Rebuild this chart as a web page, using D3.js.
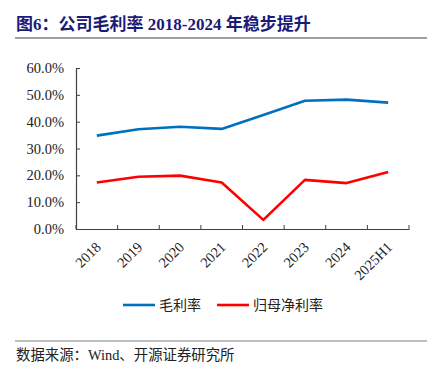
<!DOCTYPE html>
<html>
<head>
<meta charset="utf-8">
<script src="https://cdn.jsdelivr.net/npm/d3@7"></script>
<style>
  body { margin: 0; background: #fff; }
  svg { display: block; }
</style>
</head>
<body>
<div id="chart"></div>
<script>
// chart data
let categories = ["2018", "2019", "2020", "2021", "2022", "2023", "2024", "2025H1"];
let grossMargin = [34.8, 37.2, 38.1, 37.3, 42.5, 47.8, 48.2, 47.1];
let netMargin = [17.3, 19.5, 19.9, 17.3, 3.4, 18.3, 17.1, 21.2];
let yTicks = [0, 10, 20, 30, 40, 50, 60];
let seriesNames = ["毛利率", "归母净利率"];

let W = 443, H = 374;
let margin = { top: 68, left: 76, right: 34, bottom: 145 };
let plotW = 409 - margin.left, plotH = 229 - margin.top;

let serif = "'Liberation Serif', 'Times New Roman', serif";
let cjk = "'Noto Sans CJK SC', sans-serif";

let svg = d3.select("#chart").append("svg")
  .attr("width", W).attr("height", H);

// title
svg.append("text")
  .attr("x", 16).attr("y", 30)
  .attr("fill", "#1a1a78")
  .attr("font-size", 17).attr("font-weight", "bold")
  .attr("font-family", "'Liberation Serif', " + cjk)
  .text("图6：公司毛利率 2018-2024 年稳步提升");

svg.append("line")
  .attr("x1", 15).attr("x2", 427).attr("y1", 38).attr("y2", 38)
  .attr("stroke", "#7f7f7f").attr("stroke-width", 1.5);

let g = svg.append("g")
  .attr("transform", "translate(" + margin.left + "," + margin.top + ")");

// scales
let x = d3.scaleBand().domain(categories).range([0, plotW]);
let y = d3.scaleLinear().domain([0, 60]).range([plotH, 0]);

// y axis
let yAxis = d3.axisLeft(y).tickValues(yTicks)
  .tickSize(-4).tickPadding(12)
  .tickFormat(function(d) { return d.toFixed(1) + "%"; });
let yg = g.append("g").call(yAxis);
yg.select(".domain").attr("stroke", "#404040").attr("stroke-width", 1.2);
yg.selectAll(".tick line").attr("stroke", "#404040");
yg.selectAll(".tick text")
  .attr("fill", "#222").attr("font-size", 14.5).attr("font-family", serif);

// x axis
let xAxis = d3.axisBottom(x).tickSizeOuter(0).tickSize(0).tickFormat("");
let xg = g.append("g").attr("transform", "translate(0," + plotH + ")").call(xAxis);
xg.select(".domain").attr("stroke", "#404040").attr("stroke-width", 1.2);
// boundary ticks between categories
let bounds = categories.map(function(c) { return x(c); }).concat([plotW]);
xg.selectAll(".bound").data(bounds).enter().append("line")
  .attr("x1", function(d) { return d; }).attr("x2", function(d) { return d; })
  .attr("y1", 0).attr("y2", -4)
  .attr("stroke", "#404040");
xg.selectAll(".lbl").data(categories).enter().append("text")
  .attr("transform", function(d) {
    return "translate(" + (x(d) + x.bandwidth() / 2 + 5) + ",19) rotate(-45)";
  })
  .attr("text-anchor", "end")
  .attr("fill", "#222").attr("font-size", 14.5).attr("font-family", serif)
  .text(function(d) { return d; });

// lines
let line = d3.line()
  .x(function(d, i) { return x(categories[i]) + x.bandwidth() / 2; })
  .y(function(d) { return y(d); });

g.append("path").datum(grossMargin)
  .attr("fill", "none").attr("stroke", "#0070c0")
  .attr("stroke-width", 2.6).attr("stroke-linejoin", "round")
  .attr("d", line);

g.append("path").datum(netMargin)
  .attr("fill", "none").attr("stroke", "#ff0000")
  .attr("stroke-width", 2.6).attr("stroke-linejoin", "round")
  .attr("d", line);

// legend
let legend = [
  { name: seriesNames[0], color: "#0070c0", x: 123 },
  { name: seriesNames[1], color: "#ff0000", x: 217 }
];
legend.forEach(function(l) {
  svg.append("line")
    .attr("x1", l.x).attr("x2", l.x + 32).attr("y1", 305).attr("y2", 305)
    .attr("stroke", l.color).attr("stroke-width", 2.6);
  svg.append("text")
    .attr("x", l.x + 36).attr("y", 310)
    .attr("fill", "#222").attr("font-size", 14).attr("font-family", cjk)
    .text(l.name);
});

// footer
svg.append("line")
  .attr("x1", 15).attr("x2", 427).attr("y1", 341).attr("y2", 341)
  .attr("stroke", "#7f7f7f").attr("stroke-width", 1.2);
svg.append("text")
  .attr("x", 16).attr("y", 360)
  .attr("fill", "#222").attr("font-size", 14.4)
  .attr("font-family", "'Liberation Serif', " + cjk)
  .text("数据来源：Wind、开源证券研究所");
</script>
</body>
</html>
